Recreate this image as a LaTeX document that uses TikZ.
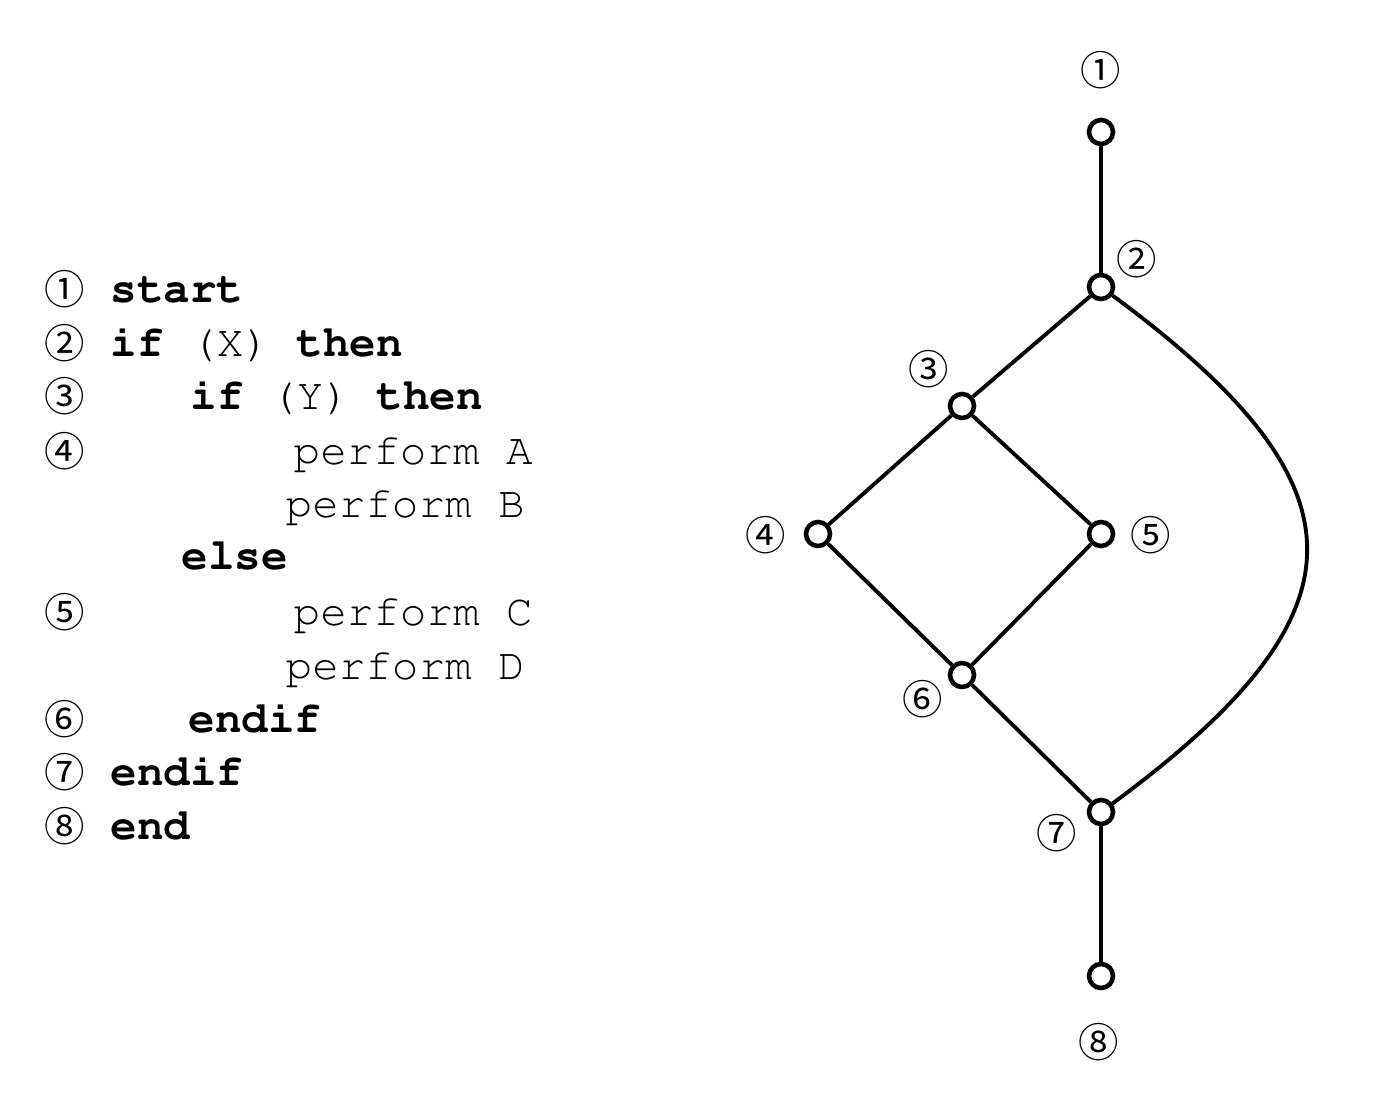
\documentclass[tikz,border=0pt]{standalone}
\usepackage[T1]{fontenc}
\usepackage{fontspec}
\newfontfamily\circfont{Noto Sans CJK JP}
\newcommand\courier{\fontencoding{T1}\fontfamily{pcr}\selectfont}

\begin{document}
\begin{tikzpicture}[every node/.style={inner sep=0pt},
	vertex/.style={circle,draw,line width=1.3pt,fill=white,minimum size=0.24cm},
	edge/.style={line width=1.1pt},
	code/.style={anchor=base west,font=\courier\fontsize{12.6}{15}\selectfont},
	num/.style={font=\circfont\fontsize{11.5}{13}\selectfont}]
							\useasboundingbox (0,0) rectangle (13.78,11.12);

							% program text
							\node[num,anchor=base] (num1) at (0.65,8.07) {①};
							\node[num,anchor=base] (num2) at (0.65,7.53) {②};
							\node[num,anchor=base] (num3) at (0.65,7.00) {③};
							\node[num,anchor=base] (num4) at (0.65,6.45) {④};
							\node[num,anchor=base] (num5) at (0.65,4.84) {⑤};
							\node[num,anchor=base] (num6) at (0.65,3.77) {⑥};
							\node[num,anchor=base] (num7) at (0.65,3.24) {⑦};
							\node[num,anchor=base] (num8) at (0.65,2.70) {⑧};

							\node[code] (line1) at (1.10,8.09) {\bfseries start};
							\node[code] (line2) at (1.10,7.55) {{\bfseries if} (X) {\bfseries then}};
							\node[code] (line3) at (1.90,7.02) {{\bfseries if} (Y) {\bfseries then}};
							\node[code] (line4) at (2.93,6.47) {perform A};
							\node[code] (line5) at (2.85,5.94) {perform B};
							\node[code] (line6) at (1.81,5.42) {\bfseries else};
							\node[code] (line7) at (2.93,4.86) {perform C};
							\node[code] (line8) at (2.85,4.32) {perform D};
							\node[code] (line9) at (1.88,3.79) {\bfseries endif};
							\node[code] (line10) at (1.10,3.26) {\bfseries endif};
							\node[code] (line11) at (1.10,2.72) {\bfseries end};

							% flow graph
							\node[vertex] (v1) at (11.01,9.80) {};
							\node[vertex] (v2) at (11.01,8.25) {};
							\node[vertex] (v3) at (9.62,7.06) {};
							\node[vertex] (v4) at (8.18,5.78) {};
							\node[vertex] (v5) at (11.01,5.78) {};
							\node[vertex] (v6) at (9.62,4.37) {};
							\node[vertex] (v7) at (11.01,3.00) {};
							\node[vertex] (v8) at (11.01,1.36) {};

							\node[num] (lab1) at (11.01,10.42) {①};
							\node[num] (lab2) at (11.37,8.53) {②};
							\node[num] (lab3) at (9.29,7.43) {③};
							\node[num] (lab4) at (7.66,5.77) {④};
							\node[num] (lab5) at (11.51,5.77) {⑤};
							\node[num] (lab6) at (9.23,4.13) {⑥};
							\node[num] (lab7) at (10.57,2.79) {⑦};
							\node[num] (lab8) at (10.99,0.70) {⑧};

							\foreach \from/\to in {v1/v2,v2/v3,v3/v4,v3/v5,v4/v6,v5/v6,v6/v7,v7/v8}
								\draw[edge] (\from) -- (\to);
							\draw[edge] (v2) .. controls (13.72,6.25) and (13.72,5.00) .. (v7);

						\end{tikzpicture}
\end{document}
